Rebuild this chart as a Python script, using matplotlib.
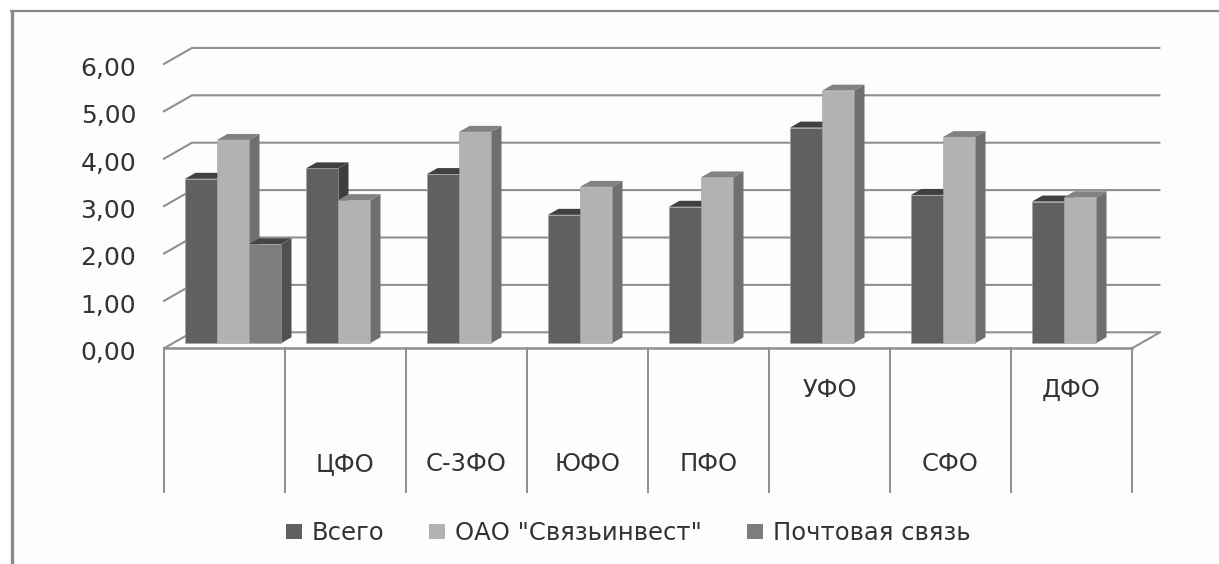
import numpy as np
import matplotlib
matplotlib.use('Agg')
import matplotlib.pyplot as plt
from matplotlib.patches import Polygon, Rectangle
from matplotlib.lines import Line2D
from matplotlib.transforms import ScaledTranslation

categories = ['', 'ЦФО', 'С-3ФО', 'ЮФО', 'ПФО', 'УФО', 'СФО', 'ДФО']
raised = ['УФО', 'ДФО']  # these two labels sit higher in the cell
vsego = [3.47, 3.69, 3.57, 2.71, 2.88, 4.55, 3.13, 2.99]
svyazinvest = [4.29, 3.02, 4.46, 3.30, 3.50, 5.33, 4.35, 3.08]
pochta = [2.09, np.nan, np.nan, np.nan, np.nan, np.nan, np.nan, np.nan]
y_ticks = [0, 1, 2, 3, 4, 5, 6]
series_names = ['Всего', 'ОАО "Связьинвест"', 'Почтовая связь']

W, H = 1219, 564
PX_X = 121.0   # pixels per category
PX_Y = 47.4    # pixels per unit
LINE = '#8f8f8f'
TEXT = '#333333'

# front, side, top colours per series
colors = [('#606060', '#3e3e3e', '#404040'),
          ('#b2b2b2', '#6f6f6f', '#828282'),
          ('#7d7d7d', '#505050', '#454545')]

fig = plt.figure(figsize=(W / 100, H / 100), dpi=100, facecolor='white')
fig.add_artist(Rectangle((12 / W, 0), 1 - 12 / W, 1 - 11 / H, transform=fig.transFigure,
                         facecolor='#fdfdfd', edgecolor='none', zorder=-5))
fig.add_artist(Line2D([11.5 / W, 11.5 / W], [0, 1 - 10 / H], color='#8a8a8a', lw=2.4,
                      solid_capstyle='butt'))
fig.add_artist(Line2D([10 / W, 1], [1 - 10.5 / H, 1 - 10.5 / H], color='#8a8a8a', lw=1.6,
                      solid_capstyle='butt'))

ax = fig.add_axes([164 / W, (H - 348.3) / H, 8 * PX_X / W, 6 * PX_Y / H])
ax.set_xlim(0, 8)
ax.set_ylim(0, 6)
ax.patch.set_alpha(0)
for s in ax.spines.values():
    s.set_visible(False)

# 3d depth of the floor and of the bars, in data units
floor_dx, floor_dy = 28 / PX_X, 16 / PX_Y
bar_dx, bar_dy = 10.5 / PX_X, 6 / PX_Y
bar_w = 32 / PX_X
gap = 21 / PX_X
base = 5 / PX_Y

# grid on the back wall with the slanted bits on the left
for v in y_ticks:
    ax.plot([0, floor_dx, 8 + floor_dx - 0.005], [v, v + floor_dy, v + floor_dy],
            color=LINE, lw=1.5, clip_on=False, zorder=1)
ax.plot([8, 8 + floor_dx], [0, floor_dy], color=LINE, lw=1.5, clip_on=False, zorder=1)

# category cells under the floor
ax.plot([0, 8], [0, 0], color=LINE, lw=1.8, clip_on=False, zorder=1)
for k in range(9):
    ax.plot([k, k], [0, -144 / PX_Y], color=LINE, lw=1.4, clip_on=False, zorder=1)

z = 3
for j, vals in enumerate([vsego, svyazinvest, pochta]):
    front, side, top = colors[j]
    for i, v in enumerate(vals):
        if np.isnan(v):
            continue
        x0 = i + gap + j * bar_w
        x1 = x0 + bar_w
        y1 = base + v
        order = z + i * 5 + j
        ax.add_patch(Polygon([(x1, base), (x1 + bar_dx, base + bar_dy),
                              (x1 + bar_dx, y1 + bar_dy), (x1, y1)],
                             facecolor=side, edgecolor='none', clip_on=False, zorder=order))
        ax.add_patch(Polygon([(x0, y1), (x0 + bar_dx, y1 + bar_dy),
                              (x1 + bar_dx, y1 + bar_dy), (x1, y1)],
                             facecolor=top, edgecolor='none', clip_on=False, zorder=order))
        ax.bar(x0, v, bar_w, bottom=base, align='edge', color=front,
               edgecolor='#a0a0a0', linewidth=0.4, clip_on=False, zorder=order + 0.5)

ax.set_xticks([])
ax.set_yticks(y_ticks)
ax.set_yticklabels([f'{v:.2f}'.replace('.', ',') for v in y_ticks],
                   fontsize=18, color=TEXT)
ax.tick_params(axis='y', length=0, pad=20)
shift = ScaledTranslation(0, -2.5 / 100, fig.dpi_scale_trans)
for lab in ax.get_yticklabels():
    lab.set_transform(lab.get_transform() + shift)

for k, name in enumerate(categories):
    y = -42 / PX_Y if name in raised else -116 / PX_Y
    ax.text(k + 0.5, y, name, ha='center', va='center', fontsize=17.5, color=TEXT, clip_on=False)

handles = [Rectangle((0, 0), 1, 1, facecolor=c[0], edgecolor='none') for c in colors]
fig.legend(handles, series_names, loc='center', bbox_to_anchor=(628 / W, 1 - 533 / H),
           ncol=3, frameon=False, fontsize=17.5, labelcolor=TEXT, handlelength=0.66,
           handleheight=0.62, handletextpad=0.4, columnspacing=1.85)

fig.savefig('out.png', dpi=100)
